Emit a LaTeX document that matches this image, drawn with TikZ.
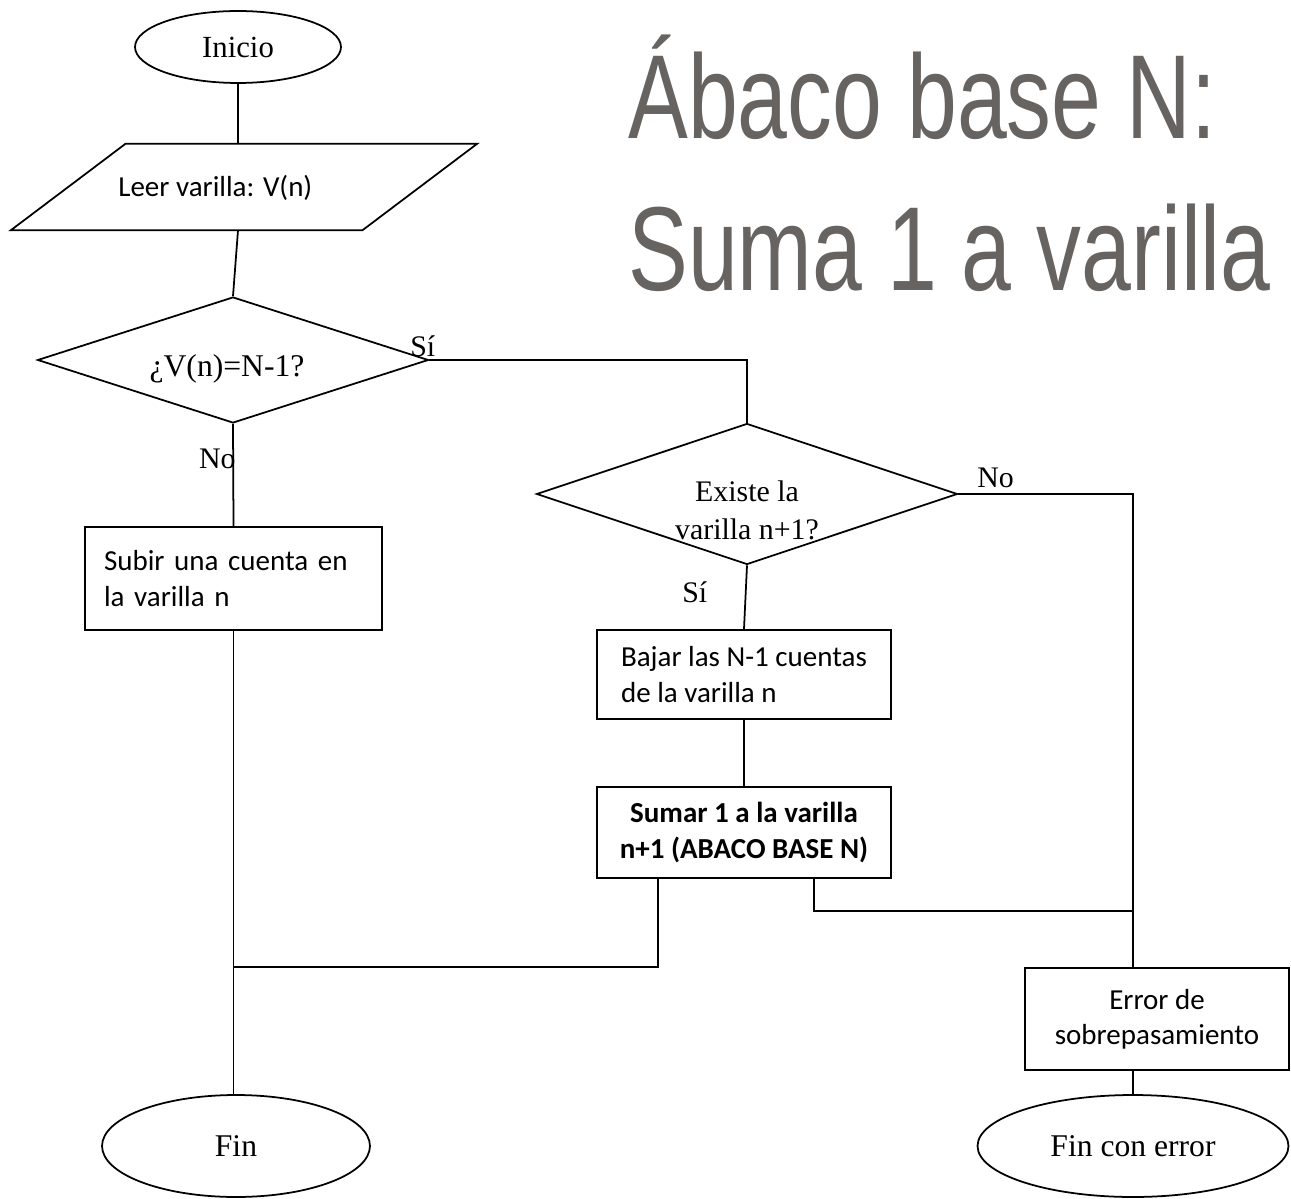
\documentclass[tikz,border=0pt]{standalone}
\usepackage{fontspec}
\setmainfont{Liberation Serif}
\newfontfamily\carlito{Carlito}
\newfontfamily\titlefont[FakeStretch=0.75]{Liberation Sans}
\usepackage{tikz}
\usetikzlibrary{shapes,arrows.meta,positioning}
\definecolor{titlegray}{RGB}{103,99,97}

\tikzset{
  terminal/.style={ellipse, draw, line width=1pt, inner sep=0pt, font=\fontsize{18}{21}\selectfont},
  decision/.style={diamond, draw, line width=1pt, inner sep=0pt},
  procbox/.style={rectangle, draw, line width=1.2pt, font=\carlito\fontsize{16.5}{20}\selectfont},
  answer/.style={inner sep=0pt, font=\fontsize{17}{20}\selectfont},
  flow/.style={line width=1pt},
}

\begin{document}
\begin{tikzpicture}[x=0.02cm, y=-0.02cm]
    \useasboundingbox (0,0) rectangle (1291,1199);

    % 1. Title on the right
    \node[anchor=base west, inner sep=0pt, text=titlegray, font=\titlefont\fontsize{68}{80}\selectfont] (titulo1) at (628,139) {Ábaco base N:};
    \node[anchor=base west, inner sep=0pt, text=titlegray, font=\titlefont\fontsize{68}{80}\selectfont] (titulo2) at (628,291) {Suma 1 a varilla};

    % 2. Start and input (the slanted sides are drawn from the node corners)
    \node[terminal, minimum width=4.12cm, minimum height=1.44cm, font=\fontsize{17.5}{21}\selectfont] (inicio) at (238,47) {Inicio};
    \node[minimum width=7.02cm, minimum height=1.72cm, inner sep=0pt] (leer) at (244,187) {};
    \draw[flow] ([xshift=-1.15cm]leer.south west) -- ([xshift=1.15cm]leer.north west)
        -- ([xshift=1.15cm]leer.north east) -- ([xshift=-1.15cm]leer.south east) -- cycle;
    \node[anchor=base west, inner sep=0pt, font=\carlito\fontsize{16.5}{20}\selectfont] (leertxt) at (118,197) {Leer varilla: V(n)};

    % 3. Decisions
    \node[decision, minimum width=7.82cm, minimum height=2.52cm] (pregunta) at (233,360) {};
    \node[answer, anchor=base, font=\fontsize{18}{22}\selectfont] (preguntatxt) at (227,377) {¿V(n)=N-1?};
    \node[decision, minimum width=8.42cm, minimum height=2.82cm] (existe) at (747,494) {};
    \node[answer, align=center, font=\fontsize{17}{21.5}\selectfont] (existetxt) at (747,510) {Existe la\\varilla n+1?};

    % 4. Process boxes
    \node[procbox, minimum width=5.94cm, minimum height=2.06cm, text width=5.18cm, inner xsep=0.38cm, align=left] (subir) at (233.5,578.5) {Subir una cuenta en\\la varilla n};
    \node[procbox, minimum width=5.88cm, minimum height=1.78cm, align=left] (bajar) at (744,674.5) {Bajar las N-1 cuentas\\de la varilla n};
    \node[procbox, minimum width=5.88cm, minimum height=1.82cm, align=center, font=\carlito\bfseries\fontsize{16.5}{20}\selectfont] (sumar) at (744,832.5) {Sumar 1 a la varilla\\n+1 (ABACO BASE N)};
    \node[procbox, minimum width=5.28cm, minimum height=2.04cm, align=center] (error) at (1157,1019) {Error de\\sobrepasamiento};

    % 5. End terminals
    \node[terminal, minimum width=5.36cm, minimum height=2.04cm] (fin) at (236,1146) {Fin};
    \node[terminal, minimum width=6.22cm, minimum height=2.04cm] (finerror) at (1133,1146) {Fin con error};

    % 6. Connectors
    \draw[flow] (inicio.south) -- (inicio.south |- leer.north);
    \draw[flow] (inicio.south |- leer.south) -- (pregunta.north);
    \draw[flow] (pregunta.south) -- (subir.north);
    \draw[flow] (pregunta.east) -| (existe.north);
    \draw[flow] (existe.east) -| (error.north -| finerror.north);
    \draw[flow] (existe.south) -- (bajar.north);
    \draw[flow] (bajar) -- (sumar);
    \draw[flow] ([xshift=-1.72cm]sumar.south) |- (subir.south |- error.north);
    \coordinate (union) at (1133,911);
    \draw[flow] ([xshift=1.4cm]sumar.south) |- (union);
    \draw[flow] (subir.south) -- (subir.south |- fin.north);
    \draw[flow] (error.south -| finerror.north) -- (finerror.north);

    % 7. Branch labels
    \node[answer, anchor=base west] (si1) at (410,357) {Sí};
    \node[answer, anchor=base east] (no1) at (236,468) {No};
    \node[answer, anchor=base west] (no2) at (977,487) {No};
    \node[answer, anchor=base west] (si2) at (682,602) {Sí};
\end{tikzpicture}
\end{document}
